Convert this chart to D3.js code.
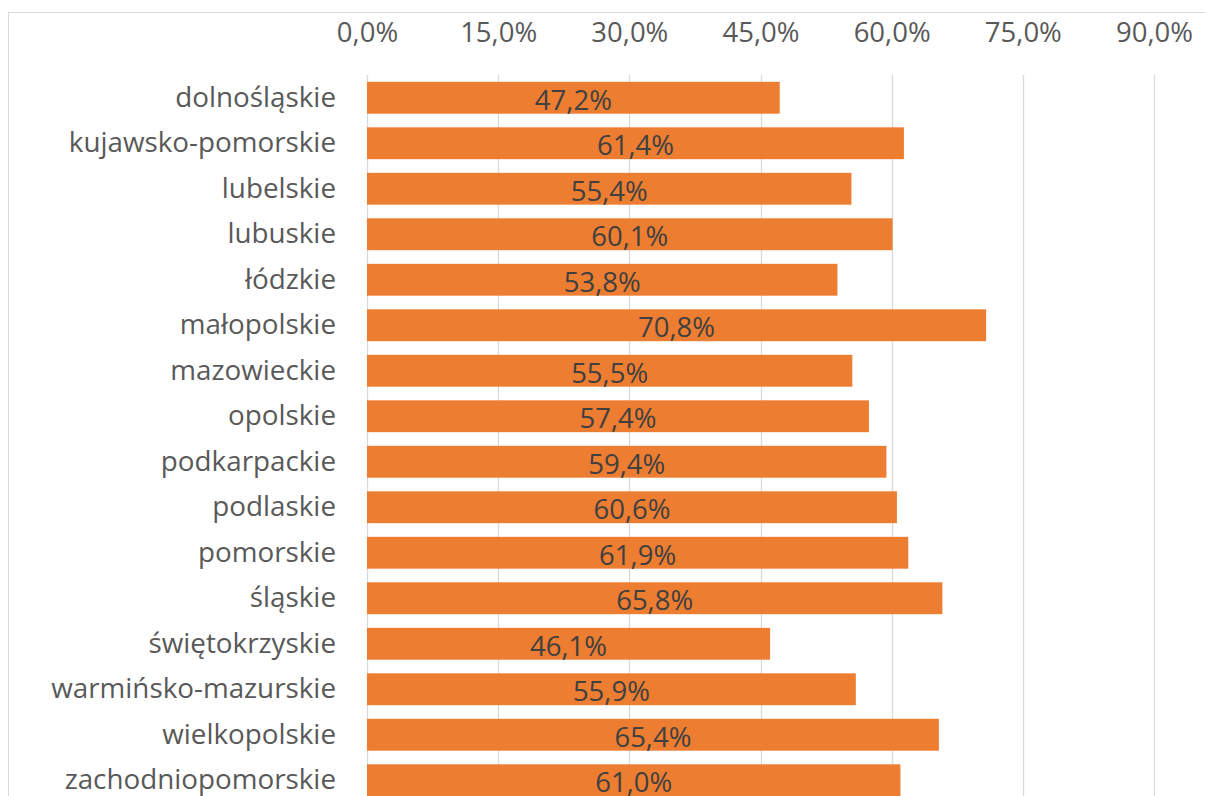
<!DOCTYPE html>
<html>
<head>
<meta charset="utf-8">
<script src="https://cdn.jsdelivr.net/npm/d3@7"></script>
<style>
  html,body{margin:0;padding:0;background:#fff;}
  svg{display:block;}
</style>
</head>
<body>
<div id="chart"></div>
<script>
// regions (województwa) and their shares
const regions = ["dolnośląskie","kujawsko-pomorskie","lubelskie","lubuskie","łódzkie","małopolskie","mazowieckie","opolskie","podkarpackie","podlaskie","pomorskie","śląskie","świętokrzyskie","warmińsko-mazurskie","wielkopolskie","zachodniopomorskie"];
const shares = [0.472,0.614,0.554,0.601,0.538,0.708,0.555,0.574,0.594,0.606,0.619,0.658,0.461,0.559,0.654,0.610];
const xTicks = [0,0.15,0.30,0.45,0.60,0.75,0.90];

const W=1205, H=796;
const FONT="'Open Sans', sans-serif";
const pl = d3.formatLocale({decimal:",", thousands:" ", grouping:[3], currency:["","zł"]});
const pct = pl.format(".1%");

const data = regions.map((r,i)=>({name:r, v:shares[i]}));

const svg=d3.select("#chart").append("svg").attr("width",W).attr("height",H);

// chart frame (cropped at right/bottom)
svg.append("rect").attr("x",8.5).attr("y",12.5).attr("width",W+20).attr("height",H+20)
  .attr("fill","#fff").attr("stroke","#d9d9d9").attr("stroke-width",1);

const xSc=d3.scaleLinear().domain([0,0.9]).range([367,1154]);
const ySc=d3.scaleBand().domain(regions).range([75,803]).paddingInner(0.3).paddingOuter(0.15);

// gridlines
svg.append("g").selectAll("line").data(xTicks).join("line")
  .attr("x1",d=>Math.round(xSc(d))+0.5).attr("x2",d=>Math.round(xSc(d))+0.5)
  .attr("y1",75).attr("y2",H+10)
  .attr("stroke","#d9d9d9").attr("stroke-width",1.3);

// top axis labels
const ax=svg.append("g").attr("transform","translate(0,42)")
  .call(d3.axisTop(xSc).tickValues(xTicks).tickSize(0).tickPadding(0).tickFormat(pct));
ax.select(".domain").remove();
ax.selectAll("text").attr("font-family",FONT).attr("font-size",27.5).attr("fill","#595959")
  .attr("dy",0);

// bars
svg.append("g").selectAll("rect").data(data).join("rect")
  .attr("x",xSc(0)).attr("y",d=>ySc(d.name))
  .attr("width",d=>xSc(d.v)-xSc(0)).attr("height",ySc.bandwidth())
  .attr("fill","#ed7d31");

// value labels
svg.append("g").selectAll("text").data(data).join("text")
  .attr("x",d=>(xSc(0)+xSc(d.v))/2).attr("y",d=>ySc(d.name)+ySc.bandwidth()/2)
  .attr("dy","0.44em").attr("text-anchor","middle")
  .attr("font-family",FONT).attr("font-size",27.5).attr("fill","#404040")
  .text(d=>pct(d.v));

// category labels
svg.append("g").selectAll("text").data(data).join("text")
  .attr("x",336).attr("y",d=>ySc(d.name)+ySc.bandwidth()/2)
  .attr("dy","0.33em").attr("text-anchor","end")
  .attr("font-family",FONT).attr("font-size",27.8).attr("fill","#595959")
  .text(d=>d.name);
</script>
</body>
</html>
